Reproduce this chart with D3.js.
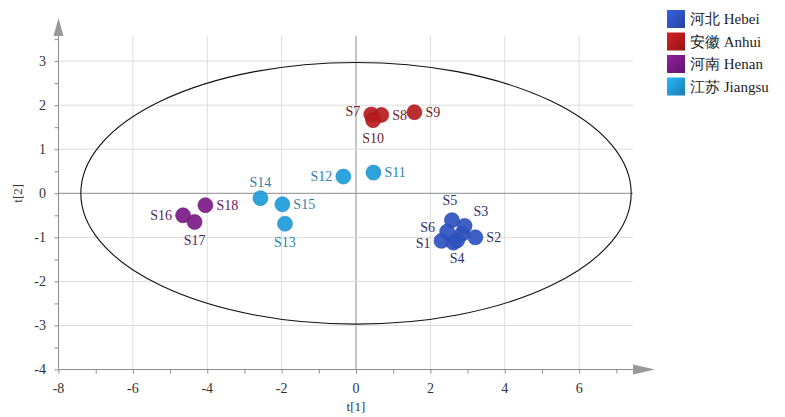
<!DOCTYPE html>
<html>
<head>
<meta charset="utf-8">
<script src="https://cdn.jsdelivr.net/npm/d3@7"></script>
<style>
  body { margin: 0; background: #fff; }
  svg { display: block; font-family: "Liberation Serif", "Times New Roman", serif; }
  .tick-label { fill: #333; font-size: 14px; }
  .axis-title { fill: #333; font-size: 13px; }
  .pt-label { font-size: 14px; }
  .legend-text { fill: #222; font-size: 15px; }
</style>
</head>
<body>
<div id="chart"></div>
<script>
// groups
const groups = ["Hebei", "Anhui", "Henan", "Jiangsu"];
const groupNames = ["河北 Hebei", "安徽 Anhui", "河南 Henan", "江苏 Jiangsu"];
const groupColors = ["#2e52c0", "#b51b1e", "#7a1a86", "#1f9bd9"];
const labelColors = ["#2b2f6b", "#6e1c1e", "#5c1b5e", "#2f7fa8"];

// scores (t[1], t[2])
const samples = ["S1", "S2", "S3", "S4", "S5", "S6", "S7", "S8", "S9", "S10",
  "S11", "S12", "S13", "S14", "S15", "S16", "S17", "S18"];
const sampleGroup = [0, 0, 0, 0, 0, 0, 1, 1, 1, 1, 3, 3, 3, 3, 3, 2, 2, 2];
const t1 = [2.30, 3.21, 2.92, 2.72, 2.58, 2.45, 0.41, 0.68, 1.57, 0.46,
  0.47, -0.34, -1.91, -2.57, -1.98, -4.65, -4.34, -4.05];
const t2 = [-1.08, -1.00, -0.74, -1.07, -0.61, -0.87, 1.79, 1.78, 1.84, 1.66,
  0.47, 0.38, -0.69, -0.11, -0.25, -0.50, -0.65, -0.27];
// extra replicate points inside the Hebei cluster
const extraT1 = [2.85, 2.62];
const extraT2 = [-0.92, -1.12];

// Hotelling T2 ellipse radii
const ellipseRx = 7.4;
const ellipseRy = 2.97;

const xTicks = [-8, -6, -4, -2, 0, 2, 4, 6];
const yTicks = [3, 2, 1, 0, -1, -2, -3, -4];

// where each label sits relative to its point
const labelSide = {
  S1: "left1", S2: "right", S3: "upright", S4: "below", S5: "upleft", S6: "upleft2",
  S7: "left7", S8: "right", S9: "right", S10: "below",
  S11: "right", S12: "left", S13: "below", S14: "above", S15: "right",
  S16: "left", S17: "below", S18: "right"
};

const width = 785, height = 417;
const svg = d3.select("#chart").append("svg")
  .attr("width", width).attr("height", height);

const x = d3.scaleLinear().domain([-8, 0]).range([58.5, 356]);
const y = d3.scaleLinear().domain([-4, 0]).range([369.5, 193.3]);

const defs = svg.append("defs");
groupColors.forEach((c, i) => {
  const g = defs.append("linearGradient").attr("id", "lg" + i)
    .attr("x1", 0).attr("y1", 0).attr("x2", 1).attr("y2", 1);
  g.append("stop").attr("offset", "0%").attr("stop-color", d3.color(c).brighter(0.5));
  g.append("stop").attr("offset", "100%").attr("stop-color", d3.color(c).darker(0.6));
});

const xMax = x.invert(633), yMax = y.invert(36);

// grid
const grid = svg.append("g");
grid.selectAll(".vg").data(xTicks.filter(d => d !== -8))
  .join("line")
  .attr("x1", d => x(d)).attr("x2", d => x(d))
  .attr("y1", y(yMax)).attr("y2", y(-4))
  .attr("stroke", d => d === 0 ? "#8a8a8a" : "#dcdcdc")
  .attr("stroke-width", 1);
grid.selectAll(".hg").data(yTicks.filter(d => d !== -4))
  .join("line")
  .attr("x1", x(-8)).attr("x2", x(xMax))
  .attr("y1", d => y(d)).attr("y2", d => y(d))
  .attr("stroke", d => d === 0 ? "#8a8a8a" : "#dcdcdc")
  .attr("stroke-width", 1);

// axes
const axisColor = "#8c8c8c";
const xAxis = svg.append("g").attr("transform", `translate(0,${y(-4)})`)
  .call(d3.axisBottom(x).tickValues(d3.range(-8, 8, 1)).tickSize(4).tickFormat(""));
xAxis.select(".domain").attr("d", `M${x(-8)},0H${x(xMax)}`);
xAxis.selectAll("line, path").attr("stroke", axisColor);

const yAxis = svg.append("g").attr("transform", `translate(${x(-8)},0)`)
  .call(d3.axisLeft(y).tickValues(d3.range(-4, 4, 0.5)).tickSize(4).tickFormat(""));
yAxis.select(".domain").attr("d", `M0,${y(yMax)}V${y(-4)}`);
yAxis.selectAll("line, path").attr("stroke", axisColor);

// arrows
svg.append("path")
  .attr("d", `M${x(xMax)},${y(-4) - 5}L${x(xMax) + 22},${y(-4)}L${x(xMax)},${y(-4) + 5}Z`)
  .attr("fill", "#999");
svg.append("path")
  .attr("d", `M${x(-8) - 5},${y(yMax)}L${x(-8)},${y(yMax) - 18}L${x(-8) + 5},${y(yMax)}Z`)
  .attr("fill", "#999");

// tick labels
svg.selectAll(".xl").data(xTicks).join("text")
  .attr("class", "tick-label")
  .attr("x", d => x(d)).attr("y", y(-4) + 23)
  .attr("text-anchor", "middle").text(d => d);
svg.selectAll(".yl").data(yTicks).join("text")
  .attr("class", "tick-label")
  .attr("x", 46).attr("y", d => y(d)).attr("dy", "0.35em")
  .attr("text-anchor", "end").text(d => d);

svg.append("text").attr("class", "axis-title")
  .attr("x", x(0)).attr("y", 411).attr("text-anchor", "middle").text("t[1]");
svg.append("text").attr("class", "axis-title")
  .attr("transform", `translate(22,${y(0)}) rotate(-90)`)
  .attr("text-anchor", "middle").text("t[2]");

// ellipse
svg.append("ellipse")
  .attr("cx", x(0)).attr("cy", y(0))
  .attr("rx", x(ellipseRx) - x(0)).attr("ry", y(0) - y(ellipseRy))
  .attr("fill", "none").attr("stroke", "#111").attr("stroke-width", 1.1);

// points
const pts = samples.map((s, i) => ({ name: s, g: sampleGroup[i], t1: t1[i], t2: t2[i] }));
const extras = extraT1.map((v, i) => ({ name: "", g: 0, t1: v, t2: extraT2[i] }));
const allPts = extras.concat(pts).sort((a, b) => a.g - b.g);

svg.append("g").selectAll("circle").data(allPts).join("circle")
  .attr("cx", d => x(d.t1)).attr("cy", d => y(d.t2)).attr("r", 7.5)
  .attr("fill", d => groupColors[d.g])
  .attr("fill-opacity", 0.92)
  .attr("stroke", d => d3.color(groupColors[d.g]).darker(0.3))
  .attr("stroke-width", 0.6);

const offsets = {
  left: [-11, 0, "end"], right: [11, 0, "start"], below: [0, 18, "middle"],
  above: [0, -16, "middle"], upright: [9, -15, "start"], upleft: [-2, -20, "middle"],
  upleft2: [-12, -5, "end"], left1: [-11, 2, "end"], left7: [-11, -3, "end"]
};
svg.append("g").selectAll("text").data(pts).join("text")
  .attr("class", "pt-label")
  .attr("x", d => x(d.t1) + offsets[labelSide[d.name]][0])
  .attr("y", d => y(d.t2) + offsets[labelSide[d.name]][1])
  .attr("dy", "0.35em")
  .attr("text-anchor", d => offsets[labelSide[d.name]][2])
  .attr("fill", d => labelColors[d.g])
  .text(d => d.name);

// legend
const legend = svg.append("g").attr("transform", "translate(667,10)");
const rows = legend.selectAll("g").data(groups).join("g")
  .attr("transform", (d, i) => `translate(0,${i * 22.5})`);
rows.append("rect").attr("width", 18).attr("height", 18)
  .attr("fill", (d, i) => `url(#lg${i})`);
rows.append("text").attr("class", "legend-text")
  .attr("x", 23).attr("y", 9).attr("dy", "0.35em")
  .text((d, i) => groupNames[i]);
</script>
</body>
</html>
